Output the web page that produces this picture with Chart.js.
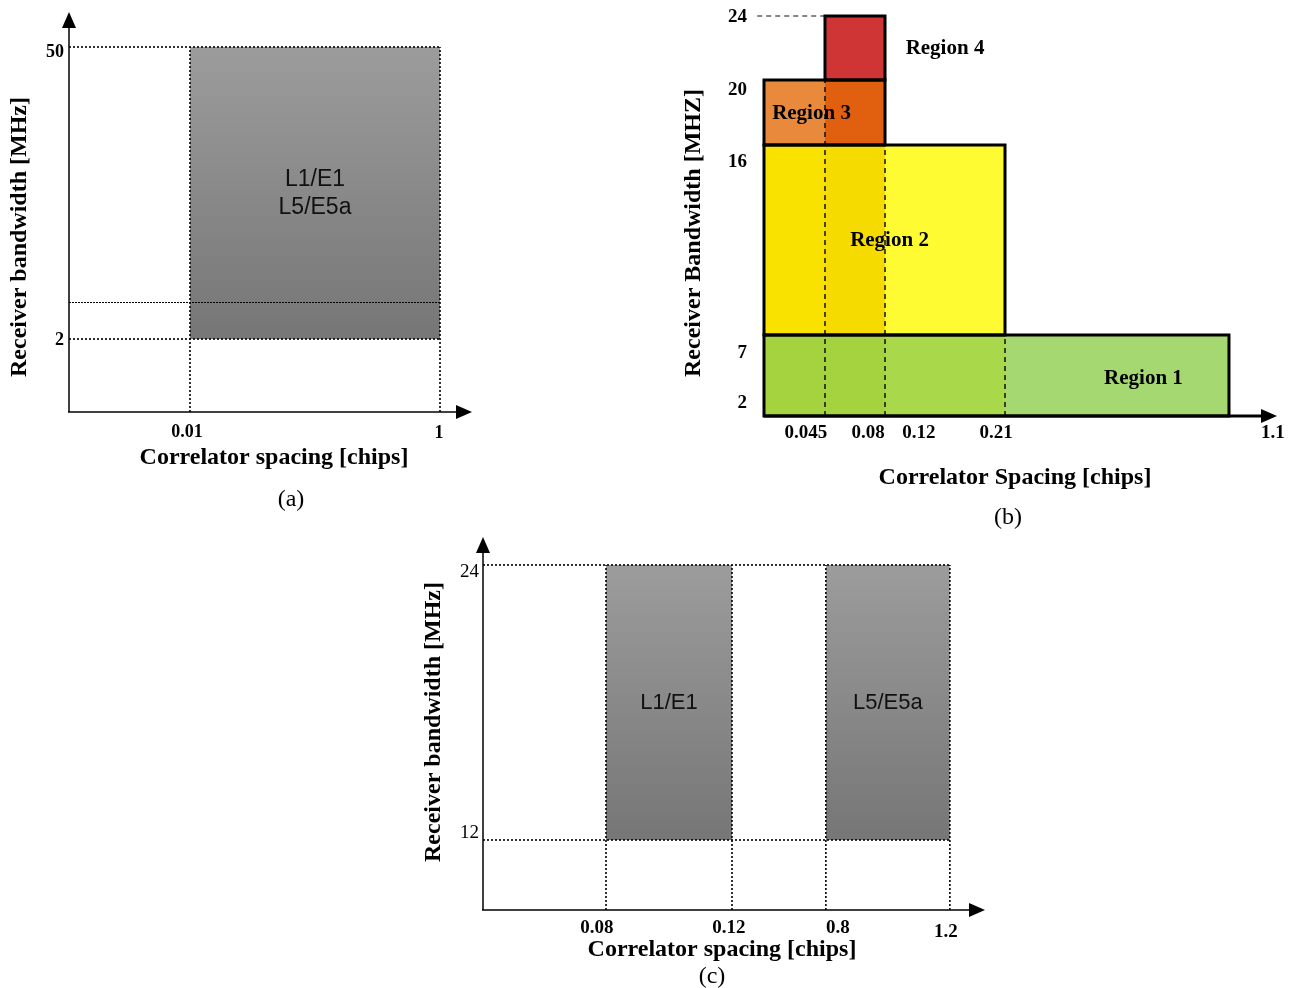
<!DOCTYPE html>
<html>
<head>
<meta charset="utf-8">
<script src="https://cdn.jsdelivr.net/npm/chart.js@4.4.0/dist/chart.umd.min.js"></script>
<style>
html, body { margin: 0; padding: 0; background: #fff; }
body { position: relative; width: 1291px; height: 988px; overflow: hidden; }
canvas { position: absolute; }
#chartA { left: 0; top: 0; }
#chartB { left: 680px; top: 0; }
#chartC { left: 410px; top: 530px; }
</style>
</head>
<body>
<canvas id="chartA" width="500" height="520"></canvas>
<canvas id="chartB" width="611" height="530"></canvas>
<canvas id="chartC" width="600" height="458"></canvas>
<script>
// (a) one window for both bands
const aSpacing = [0.01, 1];
const aBandwidth = [2, 50];
const aInnerBandwidth = 8;   // unlabeled dotted line in the box
const aSignals = ['L1/E1', 'L5/E5a'];
const aXTicks = [0.01, 1];
const aYTicks = [2, 50];

// (b) four regions
const bRegions = ['Region 1', 'Region 2', 'Region 3', 'Region 4'];
const bSpacing = [[0, 1.1], [0, 0.21], [0, 0.08], [0.045, 0.08]];
const bBandwidth = [[2, 7], [7, 16], [16, 20], [20, 24]];
const bSplits = [0.045, 0.08, 0.21];
const bGuides = [[0.045, 2, 20], [0.08, 2, 16], [0.21, 2, 7]];   // x, from, to
const bXTicks = [0.045, 0.08, 0.12, 0.21, 1.1];
const bYTicks = [2, 7, 16, 20, 24];

// (c) one window per band
const cSignals = ['L1/E1', 'L5/E5a'];
const cSpacing = [[0.08, 0.12], [0.8, 1.2]];
const cBandwidth = [12, 24];
const cXTicks = [0.08, 0.12, 0.8, 1.2];
const cYTicks = [12, 24];

const bPieceColors = [
  ['#a5d340', '#a5d340', '#a9d94b', '#a6d872'],
  ['#f9e200', '#f5db00', '#fffb33'],
  ['#e8893c', '#e06010'],
  ['#cf3535']
];
const bLabelOffsets = [[147, 3], [5, 1], [-13, 1], [90, 1]];

const SERIF = '"Liberation Serif", "Times New Roman", serif';
const SANS = '"Liberation Sans", Arial, sans-serif';

// axis that is not evenly spaced: straight pieces between break values
class PiecewiseScale extends Chart.LinearScale {
  static id = 'piecewise';
  static defaults = Chart.LinearScale.defaults;
  getPixelForValue(value) {
    const v = this.options.breakValues, f = this.options.breakFractions;
    let i = 0;
    while (i < v.length - 2 && value > v[i + 1]) i++;
    const d = f[i] + (value - v[i]) / (v[i + 1] - v[i]) * (f[i + 1] - f[i]);
    return this.getPixelForDecimal(d);
  }
  getValueForPixel(pixel) {
    const v = this.options.breakValues, f = this.options.breakFractions;
    const d = this.getDecimalForPixel(pixel);
    let i = 0;
    while (i < f.length - 2 && d > f[i + 1]) i++;
    return v[i] + (d - f[i]) / (f[i + 1] - f[i]) * (v[i + 1] - v[i]);
  }
}
Chart.register(PiecewiseScale);

function rectFill(x0, x1, lo, hi, color, order) {
  return {
    data: [{x: x0, y: hi}, {x: x1, y: hi}],
    fill: {value: lo}, backgroundColor: color,
    borderWidth: 0, pointRadius: 0, order: order || 3
  };
}

function path(points, color, width, dash, order) {
  return {
    data: points, fill: false, borderColor: color, borderWidth: width,
    borderDash: dash || [], pointRadius: 0, clip: false, order: order || 2
  };
}

function outline(x0, x1, lo, hi, color, width, dash, order) {
  const p = [{x: x0, y: lo}, {x: x1, y: lo}, {x: x1, y: hi}, {x: x0, y: hi}];
  return path(p.concat([p[0], p[1]]), color, width, dash, order || 1);
}

function grayFill(lo, hi) {
  return function (context) {
    const chart = context.chart;
    const y = chart.scales.y;
    if (!chart.chartArea || !y) return '#888';
    const g = chart.ctx.createLinearGradient(0, y.getPixelForValue(hi), 0, y.getPixelForValue(lo));
    g.addColorStop(0, '#9c9c9c');
    g.addColorStop(1, '#767676');
    return g;
  };
}

function figure(spec) {
  return {
    id: 'figure',
    afterDatasetsDraw(chart) {
      const {ctx, chartArea: a} = chart;
      const x = chart.scales.x, y = chart.scales.y;
      ctx.save();
      ctx.fillStyle = '#000';
      ctx.strokeStyle = '#000';
      ctx.lineWidth = spec.axisWidth;
      if (spec.yAxis) {
        ctx.beginPath();
        ctx.moveTo(a.left, a.bottom);
        ctx.lineTo(a.left, a.top + 10);
        ctx.stroke();
        ctx.beginPath();
        ctx.moveTo(a.left, a.top);
        ctx.lineTo(a.left - 7, a.top + 16);
        ctx.lineTo(a.left + 7, a.top + 16);
        ctx.closePath();
        ctx.fill();
      }
      ctx.beginPath();
      ctx.moveTo(a.left - (spec.yAxis ? 1 : 0), a.bottom);
      ctx.lineTo(a.right - 10, a.bottom);
      ctx.stroke();
      ctx.beginPath();
      ctx.moveTo(a.right, a.bottom);
      ctx.lineTo(a.right - 16, a.bottom - 7);
      ctx.lineTo(a.right - 16, a.bottom + 7);
      ctx.closePath();
      ctx.fill();

      ctx.textBaseline = 'middle';
      const xt = spec.xTicks;
      ctx.font = xt.font;
      ctx.textAlign = 'center';
      xt.values.forEach((v, i) => {
        ctx.fillText(String(v), x.getPixelForValue(v) + xt.dx[i], a.bottom + xt.dy[i]);
      });
      const yt = spec.yTicks;
      ctx.font = yt.font;
      ctx.textAlign = 'right';
      yt.values.forEach((v, i) => {
        ctx.fillText(String(v), a.left - yt.gap, y.getPixelForValue(v) + yt.dy[i]);
      });

      ctx.textAlign = 'center';
      spec.texts.forEach(t => {
        ctx.font = t.font;
        ctx.save();
        ctx.translate(t.x, t.y);
        if (t.rot) ctx.rotate(-Math.PI / 2);
        ctx.fillText(t.text, 0, 0);
        ctx.restore();
      });
      if (spec.labels) spec.labels(chart, ctx);
      ctx.restore();
    }
  };
}

function makeChart(id, datasets, xs, ys, padding, spec) {
  return new Chart(document.getElementById(id), {
    type: 'line',
    data: {datasets: datasets},
    options: {
      responsive: false,
      animation: false,
      events: [],
      layout: {padding: padding},
      plugins: {legend: {display: false}, tooltip: {enabled: false}},
      elements: {line: {tension: 0}},
      scales: {
        x: Object.assign({type: 'piecewise', display: false}, xs),
        y: Object.assign({type: 'piecewise', display: false}, ys)
      }
    },
    plugins: [figure(spec)]
  });
}

// ---------- (a) ----------
const dotA = [2, 2];
makeChart('chartA', [
  rectFill(aSpacing[0], aSpacing[1], aBandwidth[0], aBandwidth[1], grayFill(aBandwidth[0], aBandwidth[1])),
  path([{x: 0, y: aBandwidth[1]}, {x: aSpacing[1], y: aBandwidth[1]}], '#000', 1.6, dotA),
  path([{x: 0, y: aBandwidth[0]}, {x: aSpacing[1], y: aBandwidth[0]}], '#000', 1.6, dotA),
  path([{x: 0, y: aInnerBandwidth}, {x: aSpacing[1], y: aInnerBandwidth}], '#000', 1, [2, 1]),
  path([{x: aSpacing[0], y: 0}, {x: aSpacing[0], y: aBandwidth[1]}], '#000', 1.6, dotA),
  path([{x: aSpacing[1], y: 0}, {x: aSpacing[1], y: aBandwidth[1]}], '#000', 1.6, dotA)
], {min: 0, max: 1.1, breakValues: [0, 0.01, 1, 1.1], breakFractions: [0, 0.3002, 0.9206, 1]},
   {min: 0, max: 55, breakValues: [0, 2, 50, 55], breakFractions: [0, 0.1825, 0.9125, 1]},
   {left: 69, right: 28, top: 12, bottom: 108},
   {
     yAxis: true, axisWidth: 1.5,
     xTicks: {values: aXTicks, dx: [-3, -1], dy: [20, 21], font: 'bold 18px ' + SERIF},
     yTicks: {values: aYTicks, gap: 5, dy: [1, 5], font: 'bold 18px ' + SERIF},
     texts: [
       {text: 'Correlator spacing [chips]', x: 274, y: 458, font: 'bold 24px ' + SERIF},
       {text: 'Receiver bandwidth [MHz]', x: 20, y: 237, font: 'bold 24px ' + SERIF, rot: true},
       {text: '(a)', x: 291, y: 500, font: '24px ' + SERIF}
     ],
     labels: function (chart, ctx) {
       const x = chart.scales.x, y = chart.scales.y;
       const cx = (x.getPixelForValue(aSpacing[0]) + x.getPixelForValue(aSpacing[1])) / 2;
       const cy = (y.getPixelForValue(aBandwidth[0]) + y.getPixelForValue(aBandwidth[1])) / 2;
       ctx.font = '23px ' + SANS;
       ctx.fillStyle = '#111';
       ctx.fillText(aSignals[0], cx, cy - 13);
       ctx.fillText(aSignals[1], cx, cy + 15);
     }
   });

// ---------- (b) ----------
const bSets = [];
bRegions.forEach((name, r) => {
  const [x0, x1] = bSpacing[r];
  const [lo, hi] = bBandwidth[r];
  const cuts = [x0].concat(bSplits.filter(s => s > x0 && s < x1), [x1]);
  for (let k = 0; k < cuts.length - 1; k++) {
    bSets.push(rectFill(cuts[k], cuts[k + 1], lo, hi, bPieceColors[r][k]));
  }
  bSets.push(outline(x0, x1, lo, hi, '#000', 3, [], 1));
});
bGuides.forEach(g => {
  bSets.push(path([{x: g[0], y: g[1]}, {x: g[0], y: g[2]}], '#111', 1.5, [5, 4]));
});
bSets.push(path([{x: -0.005, y: 24}, {x: bSpacing[3][0], y: 24}], '#111', 1.2, [5, 4]));

makeChart('chartB', bSets,
  {min: 0, max: 1.2, breakValues: [0, 0.045, 0.08, 0.12, 0.21, 1.1, 1.2],
   breakFractions: [0, 0.1189, 0.2359, 0.333, 0.4698, 0.9064, 1]},
  {min: 2, max: 24, breakValues: [2, 7, 16, 20, 24], breakFractions: [0, 0.2025, 0.6775, 0.84, 1]},
  {left: 84, right: 14, top: 16, bottom: 114},
  {
    yAxis: false, axisWidth: 3,
    xTicks: {values: bXTicks, dx: [-19, -17, -16, -9, 44], dy: [17, 17, 17, 17, 17], font: 'bold 19px ' + SERIF},
    yTicks: {values: bYTicks, gap: 17, dy: [-13, 18, 17, 10, 1], font: 'bold 19px ' + SERIF},
    texts: [
      {text: 'Correlator Spacing [chips]', x: 335, y: 478, font: 'bold 24px ' + SERIF},
      {text: 'Receiver Bandwidth [MHZ]', x: 14, y: 233, font: 'bold 24px ' + SERIF, rot: true},
      {text: '(b)', x: 328, y: 518, font: '24px ' + SERIF}
    ],
    labels: function (chart, ctx) {
      const x = chart.scales.x, y = chart.scales.y;
      ctx.font = 'bold 21px ' + SERIF;
      bRegions.forEach((name, r) => {
        const cx = (x.getPixelForValue(bSpacing[r][0]) + x.getPixelForValue(bSpacing[r][1])) / 2;
        const cy = (y.getPixelForValue(bBandwidth[r][0]) + y.getPixelForValue(bBandwidth[r][1])) / 2;
        ctx.fillText(name, cx + bLabelOffsets[r][0], cy + bLabelOffsets[r][1]);
      });
    }
  });

// ---------- (c) ----------
const cSets = [];
const dotC = [2, 2];
cSpacing.forEach(s => {
  cSets.push(rectFill(s[0], s[1], cBandwidth[0], cBandwidth[1], grayFill(cBandwidth[0], cBandwidth[1])));
  cSets.push(path([{x: s[0], y: 0}, {x: s[0], y: cBandwidth[1]}], '#000', 1.6, dotC));
  cSets.push(path([{x: s[1], y: 0}, {x: s[1], y: cBandwidth[1]}], '#000', 1.6, dotC));
});
cBandwidth.forEach(b => {
  cSets.push(path([{x: 0, y: b}, {x: cSpacing[1][1], y: b}], '#000', 1.6, dotC));
});

makeChart('chartC', cSets,
  {min: 0, max: 1.3, breakValues: [0, 0.08, 0.12, 0.8, 1.2, 1.3], breakFractions: [0, 0.245, 0.496, 0.683, 0.930, 1]},
  {min: 0, max: 26, breakValues: [0, 12, 24, 26], breakFractions: [0, 0.1877, 0.925, 1]},
  {left: 73, right: 25, top: 7, bottom: 78},
  {
    yAxis: true, axisWidth: 1.5,
    xTicks: {values: cXTicks, dx: [-9, -3, 12, -4], dy: [18, 18, 18, 22], font: 'bold 19px ' + SERIF},
    yTicks: {values: cYTicks, gap: 4, dy: [-7, 7], font: '19px ' + SERIF},
    texts: [
      {text: 'Correlator spacing [chips]', x: 312, y: 420, font: 'bold 24px ' + SERIF},
      {text: 'Receiver bandwidth [MHz]', x: 24, y: 192, font: 'bold 24px ' + SERIF, rot: true},
      {text: '(c)', x: 302, y: 447, font: '24px ' + SERIF}
    ],
    labels: function (chart, ctx) {
      const x = chart.scales.x, y = chart.scales.y;
      const cy = (y.getPixelForValue(cBandwidth[0]) + y.getPixelForValue(cBandwidth[1])) / 2;
      ctx.font = '22px ' + SANS;
      ctx.fillStyle = '#111';
      cSpacing.forEach((s, i) => {
        const cx = (x.getPixelForValue(s[0]) + x.getPixelForValue(s[1])) / 2;
        ctx.fillText(cSignals[i], cx, cy);
      });
    }
  });
</script>
</body>
</html>
